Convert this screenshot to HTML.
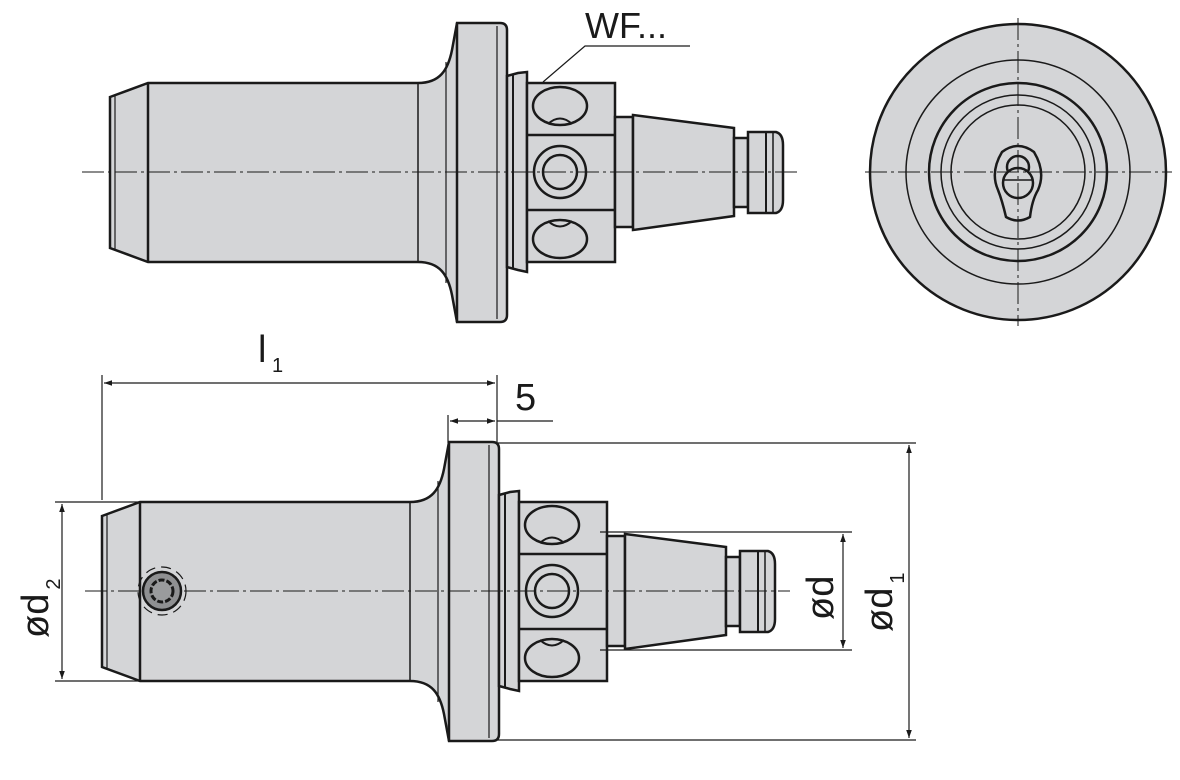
<!DOCTYPE html>
<html><head><meta charset="utf-8"><style>
html,body{margin:0;padding:0;background:#fff;}
svg{display:block;}
text{font-family:"Liberation Sans",sans-serif;fill:#1a1a1a;}
</style></head><body>
<svg width="1180" height="780" viewBox="0 0 1180 780" xmlns="http://www.w3.org/2000/svg">
<defs>
<marker id="ar" viewBox="0 0 10 10" refX="10" refY="5" markerWidth="14" markerHeight="8" markerUnits="userSpaceOnUse" orient="auto-start-reverse">
<path d="M0,1.5 L10,5 L0,8.5 Z" fill="#1a1a1a"/></marker>
<g id="body">
 <path d="M110,97 L148,83 L418,83 C440,83 448,70 452,50 L457,23 L500,23 Q507,23 507,30 L507,315 Q507,322 500,322 L457,322 L452,295 C448,275 440,262 418,262 L148,262 L110,248 Z" fill="#d4d5d7" stroke="#1a1a1a" stroke-width="2.5"/>
 <line x1="148" y1="83" x2="148" y2="262" stroke="#1a1a1a" stroke-width="2.5"/>
 <line x1="115" y1="96" x2="115" y2="249" stroke="#1a1a1a" stroke-width="1.2"/>
 <line x1="418" y1="83" x2="418" y2="262" stroke="#1a1a1a" stroke-width="1.5"/>
 <line x1="446" y1="62" x2="446" y2="283" stroke="#1a1a1a" stroke-width="1.2"/>
 <line x1="457" y1="23" x2="457" y2="322" stroke="#1a1a1a" stroke-width="2.5"/>
 <line x1="497" y1="26" x2="497" y2="319" stroke="#1a1a1a" stroke-width="1.2"/>
 <!-- ring -->
 <path d="M507,76 L518,73 L527,72 L527,272 L518,270 L507,267 Z" fill="#d4d5d7" stroke="#1a1a1a" stroke-width="2.5"/>
 <line x1="513" y1="75" x2="513" y2="268" stroke="#1a1a1a" stroke-width="2"/>
 <!-- block -->
 <rect x="527" y="83" width="88" height="179" fill="#d4d5d7" stroke="#1a1a1a" stroke-width="2.5"/>
 <line x1="527" y1="135" x2="615" y2="135" stroke="#1a1a1a" stroke-width="2.5"/>
 <line x1="527" y1="210" x2="615" y2="210" stroke="#1a1a1a" stroke-width="2.5"/>
 <ellipse cx="560" cy="106" rx="27" ry="19" fill="none" stroke="#1a1a1a" stroke-width="2.5"/>
 <path d="M548,124 Q560,113 572,124" fill="none" stroke="#1a1a1a" stroke-width="2"/>
 <ellipse cx="560" cy="239" rx="27" ry="19" fill="none" stroke="#1a1a1a" stroke-width="2.5"/>
 <path d="M548,221 Q560,232 572,221" fill="none" stroke="#1a1a1a" stroke-width="2"/>
 <circle cx="560" cy="172" r="26" fill="none" stroke="#1a1a1a" stroke-width="2.5"/>
 <circle cx="560" cy="172" r="17" fill="none" stroke="#1a1a1a" stroke-width="2.5"/>
 <!-- collar + taper -->
 <rect x="615" y="117" width="18" height="110" fill="#d4d5d7" stroke="#1a1a1a" stroke-width="2.5"/>
 <path d="M633,115 L734,128 L734,216 L633,230 Z" fill="#d4d5d7" stroke="#1a1a1a" stroke-width="2.5"/>
 <rect x="734" y="138" width="14" height="69" fill="#d4d5d7" stroke="#1a1a1a" stroke-width="2.5"/>
 <path d="M748,132 L776,132 Q783,134 783,145 L783,200 Q783,211 776,213 L748,213 Z" fill="#d4d5d7" stroke="#1a1a1a" stroke-width="2.5"/>
 <line x1="766" y1="132" x2="766" y2="213" stroke="#1a1a1a" stroke-width="2"/>
 <line x1="773" y1="132" x2="773" y2="213" stroke="#1a1a1a" stroke-width="1.5"/>
</g>
</defs>

<!-- top side view -->
<use href="#body"/>
<line x1="82" y1="172" x2="800" y2="172" stroke="#1a1a1a" stroke-width="1" stroke-dasharray="22,4,3,4"/>
<!-- WF leader -->
<text x="585" y="38" font-size="36">WF...</text>
<polyline points="543,82 585,46 690,46" fill="none" stroke="#1a1a1a" stroke-width="1.2"/>

<!-- end view -->
<circle cx="1018" cy="172" r="148" fill="#d4d5d7" stroke="#1a1a1a" stroke-width="2.5"/>
<circle cx="1018" cy="172" r="112" fill="none" stroke="#1a1a1a" stroke-width="1.5"/>
<circle cx="1018" cy="172" r="89" fill="none" stroke="#1a1a1a" stroke-width="2.5"/>
<circle cx="1018" cy="172" r="77" fill="none" stroke="#1a1a1a" stroke-width="1.5"/>
<circle cx="1018" cy="172" r="67" fill="none" stroke="#1a1a1a" stroke-width="1.5"/>
<path d="M1006,217 Q1002,200 998,190 Q990,172 1002,152 Q1018,140 1034,152 Q1046,172 1038,190 Q1032,200 1030,217 Q1018,224 1006,217 Z" fill="none" stroke="#1a1a1a" stroke-width="2.5"/>
<circle cx="1018" cy="167" r="11" fill="none" stroke="#1a1a1a" stroke-width="2.5"/>
<circle cx="1018" cy="183" r="15" fill="#d4d5d7" stroke="#1a1a1a" stroke-width="2.5"/>
<line x1="1003" y1="180" x2="1033" y2="180" stroke="#1a1a1a" stroke-width="1.5"/>
<line x1="865" y1="172" x2="1172" y2="172" stroke="#1a1a1a" stroke-width="1" stroke-dasharray="22,4,3,4"/>
<line x1="1018" y1="18" x2="1018" y2="326" stroke="#1a1a1a" stroke-width="1" stroke-dasharray="22,4,3,4"/>

<!-- bottom view -->
<g transform="translate(-8,419)"><use href="#body"/></g>
<line x1="85" y1="591" x2="790" y2="591" stroke="#1a1a1a" stroke-width="1" stroke-dasharray="22,4,3,4"/>
<!-- screw -->
<circle cx="162" cy="591" r="24" fill="none" stroke="#1a1a1a" stroke-width="1.2" stroke-dasharray="10,6"/>
<circle cx="162" cy="591" r="19" fill="#8f9092" stroke="#1a1a1a" stroke-width="2.5"/>
<circle cx="162" cy="591" r="11" fill="#9a9b9d" stroke="#1a1a1a" stroke-width="3" stroke-dasharray="6,2"/>

<!-- dimension l1 -->
<line x1="102" y1="375" x2="102" y2="500" stroke="#1a1a1a" stroke-width="1.2"/>
<line x1="497" y1="375" x2="497" y2="443" stroke="#1a1a1a" stroke-width="1.2"/>
<line x1="104" y1="383" x2="495" y2="383" stroke="#1a1a1a" stroke-width="1.2" marker-start="url(#ar)" marker-end="url(#ar)"/>
<text x="258" y="362" font-size="38">l</text><text x="272" y="372" font-size="20">1</text>
<!-- dimension 5 -->
<line x1="448" y1="415" x2="448" y2="443" stroke="#1a1a1a" stroke-width="1.2"/>
<line x1="450" y1="421" x2="495" y2="421" stroke="#1a1a1a" stroke-width="1.2" marker-start="url(#ar)" marker-end="url(#ar)"/>
<line x1="497" y1="421" x2="553" y2="421" stroke="#1a1a1a" stroke-width="1.2"/>
<text x="515" y="410" font-size="38">5</text>
<!-- ød1 -->
<line x1="497" y1="443" x2="916" y2="443" stroke="#1a1a1a" stroke-width="1.2"/>
<line x1="497" y1="740" x2="916" y2="740" stroke="#1a1a1a" stroke-width="1.2"/>
<line x1="909" y1="445" x2="909" y2="738" stroke="#1a1a1a" stroke-width="1.2" marker-start="url(#ar)" marker-end="url(#ar)"/>
<text transform="translate(892,632) rotate(-90)" font-size="38">ød<tspan font-size="20" dy="12" dx="4">1</tspan></text>
<!-- ød -->
<line x1="600" y1="532" x2="852" y2="532" stroke="#1a1a1a" stroke-width="1.2"/>
<line x1="600" y1="650" x2="852" y2="650" stroke="#1a1a1a" stroke-width="1.2"/>
<line x1="843" y1="534" x2="843" y2="648" stroke="#1a1a1a" stroke-width="1.2" marker-start="url(#ar)" marker-end="url(#ar)"/>
<text transform="translate(833,620) rotate(-90)" font-size="38">ød</text>
<!-- ød2 -->
<line x1="55" y1="502" x2="140" y2="502" stroke="#1a1a1a" stroke-width="1.2"/>
<line x1="55" y1="681" x2="140" y2="681" stroke="#1a1a1a" stroke-width="1.2"/>
<line x1="62" y1="504" x2="62" y2="679" stroke="#1a1a1a" stroke-width="1.2" marker-start="url(#ar)" marker-end="url(#ar)"/>
<text transform="translate(48,638) rotate(-90)" font-size="38">ød<tspan font-size="20" dy="12" dx="4">2</tspan></text>
</svg>
</body></html>
